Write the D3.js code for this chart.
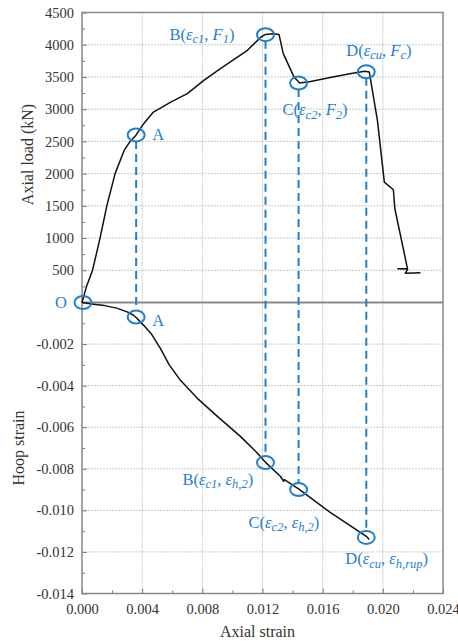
<!DOCTYPE html>
<html>
<head>
<meta charset="utf-8">
<script src="https://cdn.jsdelivr.net/npm/d3@7"></script>
<style>
  body { margin: 0; background: #fff; }
  svg { display: block; }
</style>
</head>
<body>
<script>
// load vs axial strain (upper panel)
const loadCurve = [
  [0, 0], [0.0003, 250], [0.0007, 500], [0.0012, 1000], [0.00165, 1500],
  [0.0022, 2000], [0.0028, 2360], [0.0032, 2500], [0.0036, 2600], [0.0041, 2775],
  [0.00475, 2955], [0.0059, 3110], [0.0070, 3240], [0.0081, 3447], [0.0092, 3629],
  [0.0110, 3913], [0.0119, 4120], [0.0122, 4160], [0.0127, 4170], [0.0131, 4157],
  [0.01338, 3862], [0.0141, 3498], [0.01447, 3405], [0.0152, 3430], [0.0165, 3490],
  [0.0178, 3550], [0.0188, 3587], [0.0191, 3576], [0.01964, 2826], [0.0201, 1868],
  [0.0207, 1750], [0.0208, 1455], [0.02164, 523], [0.0210, 525], [0.02165, 518],
  [0.0215, 455], [0.0225, 460]
];
// hoop strain vs axial strain (lower panel)
const hoopCurve = [
  [0, 0], [0.00075, -0.00008], [0.0015, -0.00015], [0.0023, -0.00027], [0.0030, -0.00045],
  [0.0034, -0.0006], [0.0036, -0.00072], [0.0041, -0.0011], [0.0046, -0.0015],
  [0.0052, -0.0022], [0.0058, -0.0030], [0.0065, -0.0037], [0.00765, -0.0046],
  [0.009, -0.00548], [0.01053, -0.00644], [0.01165, -0.00724], [0.0122, -0.00769],
  [0.0132, -0.00837], [0.0134, -0.0086], [0.01345, -0.00852], [0.0144, -0.00897],
  [0.0165, -0.0101], [0.0189, -0.01125], [0.0191, -0.0114]
];

const xTicks = [0, 0.004, 0.008, 0.012, 0.016, 0.020, 0.024];
const loadTicks = [500, 1000, 1500, 2000, 2500, 3000, 3500, 4000, 4500];
const hoopTicks = [-0.002, -0.004, -0.006, -0.008, -0.010, -0.012, -0.014];

// characteristic points
const keyNames = ['A', 'B', 'C', 'D'];
const keyStrains = [0.0036, 0.0122, 0.0144, 0.0189];
const keyLoads = [2600, 4155, 3405, 3580];
const keyHoops = [-0.0007, -0.0077, -0.009, -0.0113];

// label parts: ~ italic, _ subscript
const topLabels = [
  ['A'],
  ['B(', '~ε', '_c1', ', ', '~F', '_1', ')'],
  ['C(', '~ε', '_c2', ', ', '~F', '_2', ')'],
  ['D(', '~ε', '_cu', ', ', '~F', '_c', ')']
];
const bottomLabels = [
  ['A'],
  ['B(', '~ε', '_c1', ', ', '~ε', '_h,2', ')'],
  ['C(', '~ε', '_c2', ', ', '~ε', '_h,2', ')'],
  ['D(', '~ε', '_cu', ', ', '~ε', '_h,rup', ')']
];

const W = 458, H = 644
const pLeft = 82, pRight = 443, pTop = 12.5, pMid = 302.5, pBottom = 593.5
const blue = '#1f7fcc'
const serif = '"Liberation Serif", "Times New Roman", serif'

const x = d3.scaleLinear().domain([0, 0.024]).range([pLeft, pRight])
const yL = d3.scaleLinear().domain([0, 4500]).range([pMid, pTop])
const yH = d3.scaleLinear().domain([-0.014, 0]).range([pBottom, pMid])

const svg = d3.select('body').append('svg')
    .attr('width', W)
    .attr('height', H)
    .attr('font-family', serif)

// grid
const grid = svg.append('g')
    .attr('stroke', '#c8c8c8')
    .attr('stroke-width', 1)
    .attr('stroke-dasharray', '2,1')
grid.selectAll('.vg').data(xTicks.slice(1, -1)).enter().append('line')
    .attr('x1', d => x(d)).attr('x2', d => x(d))
    .attr('y1', pTop).attr('y2', pBottom)
grid.selectAll('.hl').data(loadTicks.slice(0, -1)).enter().append('line')
    .attr('x1', pLeft).attr('x2', pRight)
    .attr('y1', d => yL(d)).attr('y2', d => yL(d))
grid.selectAll('.hh').data(hoopTicks.slice(0, -1)).enter().append('line')
    .attr('x1', pLeft).attr('x2', pRight)
    .attr('y1', d => yH(d)).attr('y2', d => yH(d))

// axes (ticks inward)
const fmt3 = d => d.toFixed(3)
const axisStyle = g => {
  g.attr('font-family', serif).attr('font-size', 14.5)
  g.select('.domain').remove()
  g.selectAll('.tick line').attr('stroke', '#777')
  g.selectAll('.tick text').attr('fill', '#333')
}

svg.append('g')
    .attr('transform', `translate(${pLeft},0)`)
    .call(d3.axisLeft(yL).tickValues(loadTicks).tickSizeInner(-5).tickSizeOuter(0).tickPadding(8).tickFormat(d3.format('d')))
    .call(axisStyle)
svg.append('g')
    .attr('transform', `translate(${pLeft},0)`)
    .call(d3.axisLeft(yL).tickValues(d3.range(250, 4500, 500)).tickSize(-3).tickFormat(''))
    .call(axisStyle)

svg.append('g')
    .attr('transform', `translate(${pLeft},0)`)
    .call(d3.axisLeft(yH).tickValues(hoopTicks).tickSizeInner(-5).tickSizeOuter(0).tickPadding(8).tickFormat(fmt3))
    .call(axisStyle)
svg.append('g')
    .attr('transform', `translate(${pLeft},0)`)
    .call(d3.axisLeft(yH).tickValues(d3.range(-0.001, -0.014, -0.002)).tickSize(-3).tickFormat(''))
    .call(axisStyle)

svg.append('g')
    .attr('transform', `translate(0,${pBottom})`)
    .call(d3.axisBottom(x).tickValues(xTicks).tickSizeInner(-5).tickSizeOuter(0).tickPadding(10).tickFormat(fmt3))
    .call(axisStyle)
svg.append('g')
    .attr('transform', `translate(0,${pBottom})`)
    .call(d3.axisBottom(x).tickValues(d3.range(0.002, 0.024, 0.004)).tickSize(-3).tickFormat(''))
    .call(axisStyle)

// frame
svg.append('rect')
    .attr('x', pLeft).attr('y', pTop)
    .attr('width', pRight - pLeft).attr('height', pBottom - pTop)
    .attr('fill', 'none').attr('stroke', '#888').attr('stroke-width', 1.5)
svg.append('line')
    .attr('x1', pLeft).attr('x2', pRight)
    .attr('y1', pMid).attr('y2', pMid)
    .attr('stroke', '#8a8a8a').attr('stroke-width', 2)

// axis titles
svg.append('text')
    .attr('transform', `translate(33,${(pTop + pMid) / 2 - 3}) rotate(-90)`)
    .attr('text-anchor', 'middle')
    .attr('fill', '#333').attr('font-size', 16)
    .text('Axial load (kN)')
svg.append('text')
    .attr('transform', `translate(24,${(pMid + pBottom) / 2}) rotate(-90)`)
    .attr('text-anchor', 'middle')
    .attr('fill', '#333').attr('font-size', 16)
    .text('Hoop strain')
svg.append('text')
    .attr('x', (pLeft + pRight) / 2 - 5).attr('y', 637)
    .attr('text-anchor', 'middle')
    .attr('fill', '#333').attr('font-size', 16)
    .text('Axial strain')

// dashed connectors
svg.append('g').selectAll('line').data(keyNames).enter().append('line')
    .attr('x1', (d, i) => x(keyStrains[i])).attr('x2', (d, i) => x(keyStrains[i]))
    .attr('y1', (d, i) => yL(keyLoads[i]) + 6)
    .attr('y2', (d, i) => yH(keyHoops[i]) - 6)
    .attr('stroke', blue).attr('stroke-width', 2).attr('stroke-dasharray', '8,5')

// curves
svg.append('path').datum(loadCurve)
    .attr('d', d3.line().x(d => x(d[0])).y(d => yL(d[1])))
    .attr('fill', 'none').attr('stroke', '#111').attr('stroke-width', 1.5).attr('stroke-linejoin', 'round')
svg.append('path').datum(hoopCurve)
    .attr('d', d3.line().x(d => x(d[0])).y(d => yH(d[1])))
    .attr('fill', 'none').attr('stroke', '#111').attr('stroke-width', 1.5).attr('stroke-linejoin', 'round')

// circles
const ring = (cx, cy) => svg.append('ellipse')
    .attr('cx', cx).attr('cy', cy).attr('rx', 8.5).attr('ry', 6.5)
    .attr('fill', 'none').attr('stroke', blue).attr('stroke-width', 2)
ring(x(0) + 1, yL(0))
keyNames.forEach((n, i) => {
  ring(x(keyStrains[i]), yL(keyLoads[i]))
  ring(x(keyStrains[i]), yH(keyHoops[i]))
})

// labels
function label(parts, px, py) {
  const t = svg.append('text').attr('x', px).attr('y', py)
      .attr('fill', blue).attr('font-size', 16.5)
  let sub = false
  parts.forEach(p => {
    const s = t.append('tspan')
    if (p[0] === '~') {
      s.text(p.slice(1)).attr('font-style', 'italic')
      if (sub) { s.attr('dy', -3.5); sub = false }
    } else if (p[0] === '_') {
      s.text(p.slice(1)).attr('font-style', 'italic').attr('font-size', 12.5).attr('dy', 3.5)
      sub = true
    } else {
      s.text(p)
      if (sub) { s.attr('dy', -3.5); sub = false }
    }
  })
}
const topOffsets = [[16, 5], [-96, 5], [-16, 32], [-20, -16]]
const bottomOffsets = [[16, 9], [-83, 22], [-50, 38], [-21, 27]]
label(['O'], x(0) - 27, yL(0) + 5)
keyNames.forEach((n, i) => {
  label(topLabels[i], x(keyStrains[i]) + topOffsets[i][0], yL(keyLoads[i]) + topOffsets[i][1])
  label(bottomLabels[i], x(keyStrains[i]) + bottomOffsets[i][0], yH(keyHoops[i]) + bottomOffsets[i][1])
})
</script>
</body>
</html>
